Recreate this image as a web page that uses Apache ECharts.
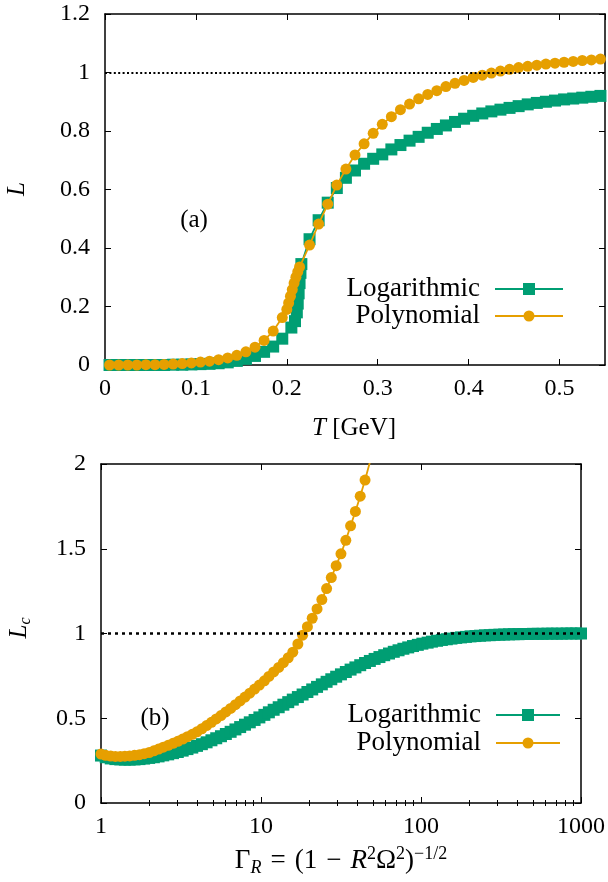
<!DOCTYPE html>
<html>
<head>
<meta charset="utf-8">
<script src="https://cdn.jsdelivr.net/npm/echarts@6/dist/echarts.min.js"></script>
<style>
  html, body { margin: 0; padding: 0; background: #fff; }
  #chart { width: 608px; height: 882px; }
</style>
</head>
<body>
<div id="chart"></div>
<script>
// Panel (a): Polyakov loop L versus temperature T [GeV]
const tLog = [0.005, 0.015, 0.025, 0.035, 0.045, 0.055, 0.065, 0.075, 0.085, 0.095,
  0.105, 0.115, 0.125, 0.135, 0.145, 0.155, 0.165, 0.175, 0.185, 0.195,
  0.205, 0.209, 0.211, 0.212, 0.213, 0.214, 0.215, 0.216,
  0.225, 0.235, 0.245, 0.255, 0.265, 0.275, 0.285, 0.295, 0.305, 0.315,
  0.325, 0.335, 0.345, 0.355, 0.365, 0.375, 0.385, 0.395, 0.405, 0.415,
  0.425, 0.435, 0.445, 0.455, 0.465, 0.475, 0.485, 0.495, 0.505, 0.515,
  0.525, 0.535, 0.545];
const lLog = [0, 0, 0, 0, 0, 0, 0, 0.001, 0.001, 0.002,
  0.003, 0.004, 0.006, 0.009, 0.014, 0.021, 0.031, 0.045, 0.063, 0.09,
  0.128, 0.15, 0.18, 0.21, 0.245, 0.28, 0.315, 0.345,
  0.43, 0.495, 0.555, 0.605, 0.64, 0.665, 0.688, 0.705, 0.72, 0.737,
  0.752, 0.767, 0.78, 0.794, 0.807, 0.819, 0.831, 0.842, 0.852, 0.86,
  0.867, 0.873, 0.879, 0.885, 0.891, 0.896, 0.9, 0.904, 0.908, 0.911,
  0.914, 0.917, 0.92];

const tPoly = [0.005, 0.015, 0.025, 0.035, 0.045, 0.055, 0.065, 0.075, 0.085, 0.095,
  0.105, 0.115, 0.125, 0.135, 0.145, 0.155, 0.165, 0.175, 0.185, 0.195,
  0.200, 0.202, 0.204, 0.206, 0.208, 0.210, 0.212, 0.214,
  0.225, 0.235, 0.245, 0.255, 0.265, 0.275, 0.285, 0.295, 0.305, 0.315,
  0.325, 0.335, 0.345, 0.355, 0.365, 0.375, 0.385, 0.395, 0.405, 0.415,
  0.425, 0.435, 0.445, 0.455, 0.465, 0.475, 0.485, 0.495, 0.505, 0.515,
  0.525, 0.535, 0.545];
const lPoly = [0, 0, 0, 0, 0.001, 0.001, 0.002, 0.003, 0.005, 0.007,
  0.01, 0.013, 0.018, 0.024, 0.033, 0.045, 0.061, 0.084, 0.116, 0.162,
  0.19, 0.212, 0.235, 0.258, 0.28, 0.3, 0.318, 0.335,
  0.41, 0.482, 0.55, 0.615, 0.67, 0.718, 0.756, 0.792, 0.823, 0.849,
  0.873, 0.892, 0.91, 0.925, 0.938, 0.952, 0.963, 0.973, 0.983, 0.991,
  0.998, 1.005, 1.011, 1.017, 1.021, 1.025, 1.029, 1.032, 1.035, 1.038,
  1.041, 1.043, 1.046];

// Panel (b): L_c versus Gamma_R
const gammaR = [1, 1.07, 1.15, 1.23, 1.32, 1.41, 1.51, 1.62, 1.74, 1.86,
  2.00, 2.14, 2.29, 2.45, 2.63, 2.82, 3.02, 3.24, 3.47, 3.72,
  3.98, 4.27, 4.57, 4.90, 5.25, 5.62, 6.03, 6.46, 6.92, 7.41,
  7.94, 8.51, 9.12, 9.77, 10.5, 11.2, 12.0, 12.9, 13.8, 14.8,
  15.8, 17.0, 18.2, 19.5, 20.9, 22.4, 24.0, 25.7, 27.5, 29.5,
  31.6, 33.9, 36.3, 38.9, 41.7, 44.7, 47.9, 51.3, 55.0, 58.9,
  63.1, 67.6, 72.4, 77.6, 83.2, 89.1, 95.5, 102, 110, 117,
  126, 135, 145, 155, 166, 178, 191, 204, 219, 234,
  251, 269, 288, 309, 331, 355, 380, 407, 437, 468,
  501, 537, 575, 617, 661, 708, 759, 813, 871, 933, 1000];
const lcLog = [0.28, 0.27, 0.263, 0.259, 0.257, 0.256, 0.256, 0.257, 0.259, 0.262,
  0.266, 0.27, 0.275, 0.281, 0.287, 0.294, 0.301, 0.309, 0.318, 0.327,
  0.337, 0.347, 0.358, 0.37, 0.382, 0.394, 0.407, 0.42, 0.434, 0.448,
  0.462, 0.476, 0.49, 0.505, 0.52, 0.535, 0.55, 0.565, 0.58, 0.595,
  0.61, 0.625, 0.64, 0.655, 0.67, 0.685, 0.7, 0.715, 0.73, 0.745,
  0.759, 0.773, 0.787, 0.8, 0.813, 0.826, 0.838, 0.85, 0.861, 0.872,
  0.882, 0.892, 0.901, 0.91, 0.918, 0.926, 0.933, 0.94, 0.946, 0.952,
  0.957, 0.962, 0.966, 0.97, 0.974, 0.977, 0.98, 0.983, 0.985, 0.987,
  0.989, 0.99, 0.992, 0.993, 0.994, 0.995, 0.996, 0.996, 0.997, 0.997,
  0.998, 0.998, 0.998, 0.999, 0.999, 0.999, 0.999, 1.0, 1.0, 1.0, 1.0];
const lcPoly = [0.289, 0.281, 0.277, 0.275, 0.275, 0.276, 0.278, 0.281, 0.285, 0.291,
  0.298, 0.308, 0.318, 0.329, 0.34, 0.352, 0.364, 0.377, 0.391, 0.405,
  0.42, 0.438, 0.457, 0.476, 0.496, 0.516, 0.537, 0.558, 0.58, 0.602,
  0.625, 0.648, 0.672, 0.696, 0.721, 0.747, 0.773, 0.8, 0.828, 0.857,
  0.89, 0.938, 0.99, 1.04, 1.09, 1.145, 1.2, 1.265, 1.33, 1.4,
  1.47, 1.55, 1.635, 1.72, 1.81, 1.905, 2.01];

const yTicksA = [0, 0.2, 0.4, 0.6, 0.8, 1, 1.2];
const yTicksB = [0, 0.5, 1, 1.5, 2];
const seriesNames = ['Logarithmic', 'Polynomial'];
const minorDecadeTicks = [2, 3, 4, 5, 6, 7, 8, 9, 20, 30, 40, 50, 60, 70, 80, 90,
  200, 300, 400, 500, 600, 700, 800, 900];

const GREEN = '#009E73';
const ORANGE = '#E69F00';
const FONT = 'Liberation Serif';
const TICK_FONT = 24;
const SQUARE = 12;
const DOT = 11;

const zip = (xs, ys) => ys.map((y, i) => [xs[i], y]);

const chart = echarts.init(document.getElementById('chart'), null, { renderer: 'canvas' });

const lineBlack = { lineStyle: { color: '#000', width: 1.5 } };
const labelStyle = { color: '#000', fontFamily: FONT, fontSize: TICK_FONT };

function frameAxis(base, extra) {
  return Object.assign({
    axisLine: Object.assign({ show: true, onZero: false }, lineBlack),
    splitLine: { show: false },
    axisTick: { show: true, inside: true, length: 6, lineStyle: { color: '#000', width: 1 } },
    axisLabel: { show: false },
    silent: true
  }, base, extra || {});
}

const refLine = (width, dash) => ({
  silent: true,
  symbol: 'none',
  label: { show: false },
  lineStyle: { color: '#000', width: width, type: dash },
  data: [{ yAxis: 1 }]
});

const minorTickAxis = (position) => frameAxis(
  { type: 'value', gridIndex: 1, position: position, min: 0, max: 3 },
  { axisLine: { show: false },
    axisTick: { show: true, inside: true, length: 3, lineStyle: { color: '#000', width: 1 },
      customValues: minorDecadeTicks.map(v => Math.log10(v)) } });

const option = {
  animation: false,
  backgroundColor: '#fff',
  grid: [
    { left: 105, top: 14, width: 500, height: 351 },
    { left: 101, top: 464, width: 482, height: 339 }
  ],
  xAxis: [
    frameAxis({ type: 'value', gridIndex: 0, position: 'bottom', min: 0, max: 0.55, interval: 0.1 },
      { axisLabel: Object.assign({ show: true, margin: 12, showMaxLabel: false }, labelStyle) }),
    frameAxis({ type: 'value', gridIndex: 0, position: 'top', min: 0, max: 0.55, interval: 0.1 }),
    frameAxis({ type: 'log', logBase: 10, gridIndex: 1, position: 'bottom', min: 1, max: 1000 },
      { axisLabel: Object.assign({ show: true, margin: 12, formatter: v => String(Math.round(v)) }, labelStyle) }),
    frameAxis({ type: 'log', logBase: 10, gridIndex: 1, position: 'top', min: 1, max: 1000 }),
    minorTickAxis('bottom'),
    minorTickAxis('top')
  ],
  yAxis: [
    frameAxis({ type: 'value', gridIndex: 0, position: 'left', min: yTicksA[0], max: yTicksA[yTicksA.length - 1], interval: 0.2 },
      { axisLabel: Object.assign({ show: true, margin: 15 }, labelStyle) }),
    frameAxis({ type: 'value', gridIndex: 0, position: 'right', min: yTicksA[0], max: yTicksA[yTicksA.length - 1], interval: 0.2 }),
    frameAxis({ type: 'value', gridIndex: 1, position: 'left', min: yTicksB[0], max: yTicksB[yTicksB.length - 1], interval: 0.5 },
      { axisLabel: Object.assign({ show: true, margin: 15 }, labelStyle) }),
    frameAxis({ type: 'value', gridIndex: 1, position: 'right', min: yTicksB[0], max: yTicksB[yTicksB.length - 1], interval: 0.5 })
  ],
  series: [
    {
      name: seriesNames[0], type: 'line', xAxisIndex: 0, yAxisIndex: 0,
      data: zip(tLog, lLog),
      symbol: 'rect', symbolSize: SQUARE, showAllSymbol: true,
      lineStyle: { color: GREEN, width: 1.8 },
      itemStyle: { color: GREEN, borderWidth: 0 },
      z: 2
    },
    {
      name: seriesNames[1], type: 'line', xAxisIndex: 0, yAxisIndex: 0,
      data: zip(tPoly, lPoly),
      symbol: 'circle', symbolSize: DOT, showAllSymbol: true,
      lineStyle: { color: ORANGE, width: 1.8 },
      itemStyle: { color: ORANGE, borderWidth: 0 },
      markLine: refLine(2, [2, 2.4]),
      z: 3
    },
    {
      name: seriesNames[0], type: 'line', xAxisIndex: 2, yAxisIndex: 2,
      data: zip(gammaR, lcLog),
      symbol: 'rect', symbolSize: SQUARE, showAllSymbol: true,
      lineStyle: { color: GREEN, width: 1.8 },
      itemStyle: { color: GREEN, borderWidth: 0 },
      z: 2
    },
    {
      name: seriesNames[1], type: 'line', xAxisIndex: 2, yAxisIndex: 2,
      data: zip(gammaR, lcPoly),
      symbol: 'circle', symbolSize: DOT, showAllSymbol: true,
      lineStyle: { color: ORANGE, width: 1.8 },
      itemStyle: { color: ORANGE, borderWidth: 0 },
      markLine: refLine(2.5, [3, 4]),
      z: 3
    }
  ],
  graphic: []
};

// Axis titles and panel tags
const txt = (x, y, rich, text, extra) => Object.assign({
  type: 'text', x: x, y: y, silent: true,
  style: { text: text, rich: rich, fill: '#000', font: '24px "' + FONT + '"', align: 'center', verticalAlign: 'middle' }
}, extra || {});

const richMath = {
  r: { fontFamily: FONT, fontSize: 25, lineHeight: 30, fill: '#000' },
  i: { fontFamily: FONT, fontSize: 25, fontStyle: 'italic', lineHeight: 30, fill: '#000' },
  sub: { fontFamily: FONT, fontSize: 16, fontStyle: 'italic', lineHeight: 14, verticalAlign: 'bottom', fill: '#000' },
  sup: { fontFamily: FONT, fontSize: 16, lineHeight: 16, verticalAlign: 'top', fill: '#000' }
};
const richBig = {
  r: { fontFamily: FONT, fontSize: 27, lineHeight: 32, fill: '#000' },
  i: { fontFamily: FONT, fontSize: 27, fontStyle: 'italic', lineHeight: 32, fill: '#000' },
  sub: { fontFamily: FONT, fontSize: 18, fontStyle: 'italic', lineHeight: 15, verticalAlign: 'bottom', fill: '#000' },
  sup: { fontFamily: FONT, fontSize: 18, lineHeight: 17, verticalAlign: 'top', fill: '#000' }
};

const gap = ' \u200A';
option.graphic.push(
  txt(194, 220, richMath, '{r|(a)}'),
  txt(155, 718, richMath, '{r|(b)}'),
  txt(354, 428, richMath, '{i|T}{r| [GeV]}'),
  txt(17, 189, richMath, '{i|L}', { rotation: Math.PI / 2 }),
  txt(19, 628, richMath, '{i|L}{sub|c}', { rotation: Math.PI / 2 }),
  txt(341, 861, richBig, '{r|Γ}{sub|R}{r|' + gap + '=' + gap + '(1' + gap + '−' + gap + '}{i|R}{sup|2}{r|Ω}{sup|2}{r|)}{sup|−1/2}')
);

// Legend rows: label, sample line and marker
function legendRow(textRight, y, lineX0, lineX1, color, shape, name) {
  const mid = (lineX0 + lineX1) / 2;
  const items = [
    { type: 'text', x: textRight, y: y, silent: true,
      style: { text: name, fill: '#000', font: '27px "' + FONT + '"', align: 'right', verticalAlign: 'middle' } },
    { type: 'line', silent: true, shape: { x1: lineX0, y1: y, x2: lineX1, y2: y },
      style: { stroke: color, lineWidth: 2 } }
  ];
  if (shape === 'rect') {
    items.push({ type: 'rect', silent: true, shape: { x: mid - SQUARE / 2, y: y - SQUARE / 2, width: SQUARE, height: SQUARE }, style: { fill: color } });
  } else {
    items.push({ type: 'circle', silent: true, shape: { cx: mid, cy: y, r: DOT / 2 }, style: { fill: color } });
  }
  return items;
}

option.graphic.push(
  ...legendRow(480, 289, 495, 563, GREEN, 'rect', seriesNames[0]),
  ...legendRow(480, 316, 495, 563, ORANGE, 'circle', seriesNames[1]),
  ...legendRow(481, 715, 496, 560, GREEN, 'rect', seriesNames[0]),
  ...legendRow(481, 743, 496, 560, ORANGE, 'circle', seriesNames[1])
);

chart.setOption(option);
</script>
</body>
</html>
